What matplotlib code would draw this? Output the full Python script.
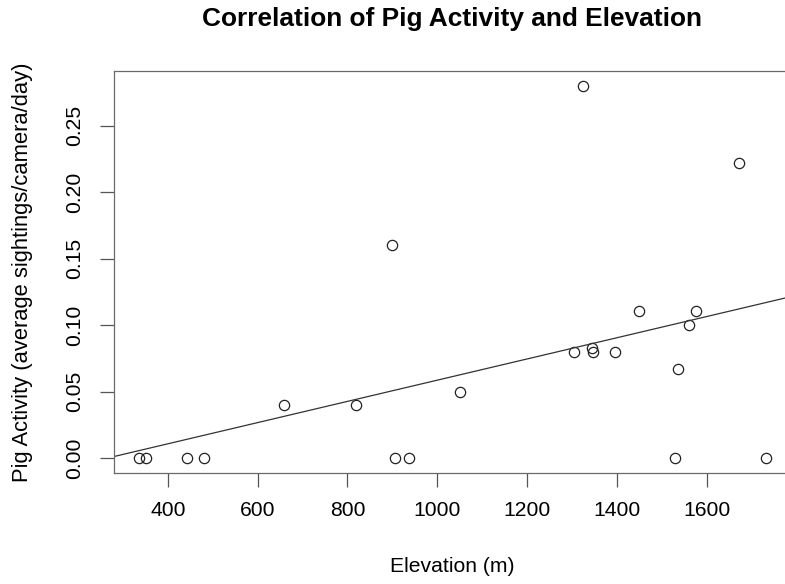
import numpy as np
import matplotlib
matplotlib.use("Agg")
import matplotlib.pyplot as plt
from matplotlib.ticker import FormatStrFormatter

# elevation (m) and pig activity (sightings/camera/day)
elevation = [335, 351, 443, 480, 659, 820, 899, 906, 938, 1051, 1304,
             1325, 1345, 1347, 1397, 1450, 1530, 1537, 1561, 1577, 1671, 1732]
activity = [0.0, 0.0, 0.0, 0.0, 0.04, 0.04, 0.16, 0.0, 0.0, 0.05, 0.08,
            0.28, 0.083, 0.08, 0.08, 0.111, 0.0, 0.067, 0.10, 0.111, 0.222, 0.0]
x_ticks = [400, 600, 800, 1000, 1200, 1400, 1600]
y_ticks = [0.00, 0.05, 0.10, 0.15, 0.20, 0.25]

plt.rcParams['font.family'] = ['Liberation Sans', 'DejaVu Sans']

W, H = 785, 584
fig = plt.figure(figsize=(W / 100, H / 100), dpi=100)
# plot region in pixels: left 113.5, right 791 (runs past the edge), top 70.7, bottom 473.3
ax = fig.add_axes([113.5 / W, (H - 473.3) / H, (791 - 113.5) / W, (473.3 - 70.7) / H])

x = np.array(elevation, dtype=float)
y = np.array(activity, dtype=float)

# R style 4% padding of the data range
xr = x.max() - x.min()
yr = y.max() - y.min()
ax.set_xlim(x.min() - 0.04 * xr, x.max() + 0.04 * xr)
ax.set_ylim(y.min() - 0.04 * yr, y.max() + 0.04 * yr)

ax.plot(x, y, linestyle='none', marker='o', markersize=7.4,
        markerfacecolor='none', markeredgecolor='#222222', markeredgewidth=0.9)

# abline(lm(y ~ x))
slope, icpt = np.polyfit(x, y, 1)
xl = np.array(ax.get_xlim())
ax.plot(xl, icpt + slope * xl, color='#333333', lw=0.9)

ax.set_xticks(x_ticks)
ax.set_yticks(y_ticks)
ax.yaxis.set_major_formatter(FormatStrFormatter('%.2f'))
ax.tick_params(axis='both', direction='out', length=10.3, width=0.9,
               color='#555555', labelsize=15.2)
ax.tick_params(axis='x', pad=10)
ax.tick_params(axis='y', pad=10.5)
for lab in ax.get_yticklabels():
    lab.set_rotation(90)
    lab.set_va('center')

for sp in ax.spines.values():
    sp.set_color('#6a6a6a')
    sp.set_linewidth(0.9)

fig.text(452 / W, 1 - 19 / H, 'Correlation of Pig Activity and Elevation',
         ha='center', va='center', fontsize=18.9, fontweight='bold')
fig.text(452 / W, 1 - 566 / H, 'Elevation (m)', ha='center', va='center',
         fontsize=15.2)
fig.text(23 / W, 1 - 272 / H, 'Pig Activity (average sightings/camera/day)',
         ha='center', va='center', rotation=90, fontsize=15.8)

fig.savefig('out.png', dpi=100)
